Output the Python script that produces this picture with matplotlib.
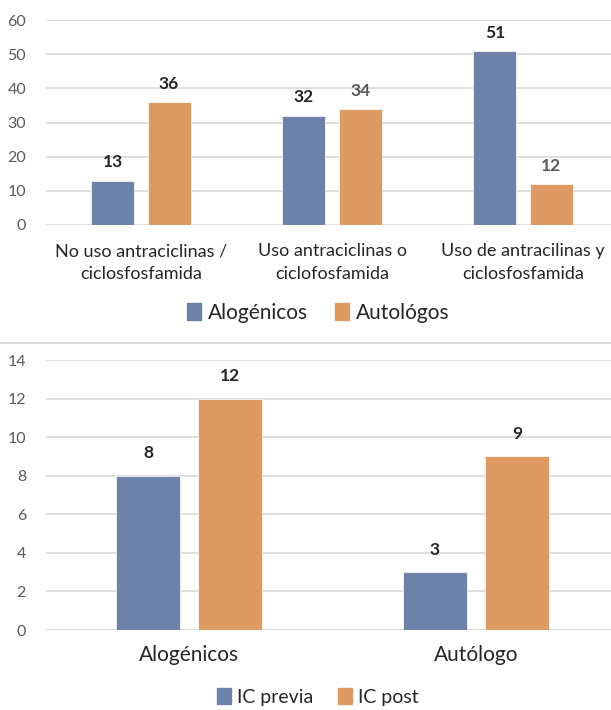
import numpy as np
import matplotlib.pyplot as plt
from matplotlib.lines import Line2D
from matplotlib.patches import Patch

plt.rcParams['font.family'] = ['Lato', 'DejaVu Sans']

# datos grafico superior
cats_top = ['No uso antraciclinas /\nciclosfosfamida', 'Uso antraciclinas o\nciclofosfamida',
            'Uso de antracilinas y\nciclosfosfamida']
alogenicos = [13, 32, 51]
autologos = [36, 34, 12]

# datos grafico inferior
cats_bot = ['Alogénicos', 'Autólogo']
ic_previa = [8, 3]
ic_post = [12, 9]

azul = '#6E81A8'
naranja = '#DD9A63'
grid_c = '#D9D9D9'
tick_c = '#595959'

W, H = 611, 710
fig = plt.figure(figsize=(W / 100, H / 100), dpi=100)


def estilo(ax, ymax, step):
    ax.set_ylim(0, ymax)
    ax.set_yticks(np.arange(0, ymax + 1, step))
    ax.yaxis.grid(True, color=grid_c, linewidth=1.2)
    ax.set_axisbelow(True)
    for s in ax.spines.values():
        s.set_visible(False)
    ax.tick_params(axis='both', length=0)
    ax.tick_params(axis='y', labelsize=11.5, colors=tick_c, pad=14)


# --- grafico superior ---
ax1 = fig.add_axes([45.5 / W, (H - 225) / H, 573 / W, 205 / H])
x = np.arange(len(cats_top))
w = 0.225
b1 = ax1.bar(x - 0.147, alogenicos, w, color=azul, edgecolor='white', linewidth=0.5)
b2 = ax1.bar(x + 0.147, autologos, w, color=naranja, edgecolor='white', linewidth=0.5)
ax1.set_xlim(-0.5, 2.5)
estilo(ax1, 60, 10)
ax1.set_xticks(x)
ax1.set_xticklabels(cats_top, fontsize=13, color='#262626', linespacing=1.55)
ax1.tick_params(axis='x', pad=13)
for r, v in zip(b1, alogenicos):
    ax1.text(r.get_x() + r.get_width() / 2, v + 3, str(v), ha='center', va='bottom',
             fontsize=12.5, fontweight='bold', color='#262626')
lab_cols = ['#262626', tick_c, tick_c]
for r, v, c in zip(b2, autologos, lab_cols):
    ax1.text(r.get_x() + r.get_width() / 2, v + 3, str(v), ha='center', va='bottom',
             fontsize=12.5, fontweight='bold', color=c)
fig.legend(handles=[Patch(color=azul, label='Alogénicos'), Patch(color=naranja, label='Autológos')],
           loc='center', bbox_to_anchor=(318 / W, 1 - 313 / H), ncol=2, frameon=False,
           fontsize=15, handlelength=0.7, handleheight=0.9, handletextpad=0.3, columnspacing=1.3,
           labelcolor='#262626')

# separador
fig.add_artist(Line2D([0, 1], [(H - 343) / H] * 2, color=grid_c, linewidth=1.5))

# --- grafico inferior ---
ax2 = fig.add_axes([45.5 / W, (H - 630) / H, 574 / W, 270 / H])
x2 = np.arange(len(cats_bot))
w2 = 0.223
c1 = ax2.bar(x2 - 0.143, ic_previa, w2, color=azul, edgecolor='white', linewidth=0.5)
c2 = ax2.bar(x2 + 0.143, ic_post, w2, color=naranja, edgecolor='white', linewidth=0.5)
ax2.set_xlim(-0.5, 1.5)
estilo(ax2, 14, 2)
ax2.set_xticks(x2)
ax2.set_xticklabels(cats_bot, fontsize=15, color='#262626')
ax2.tick_params(axis='x', pad=11)
for bars, vals in [(c1, ic_previa), (c2, ic_post)]:
    for r, v in zip(bars, vals):
        ax2.text(r.get_x() + r.get_width() / 2, v + 0.75, str(v), ha='center', va='bottom',
                 fontsize=12.5, fontweight='bold', color='#262626')
fig.legend(handles=[Patch(color=azul, label='IC previa'), Patch(color=naranja, label='IC post')],
           loc='center', bbox_to_anchor=(318 / W, 1 - 697 / H), ncol=2, frameon=False,
           fontsize=14, handlelength=0.7, handleheight=0.9, handletextpad=0.3, columnspacing=1.3,
           labelcolor='#262626')

fig.savefig('out.png', dpi=100)
